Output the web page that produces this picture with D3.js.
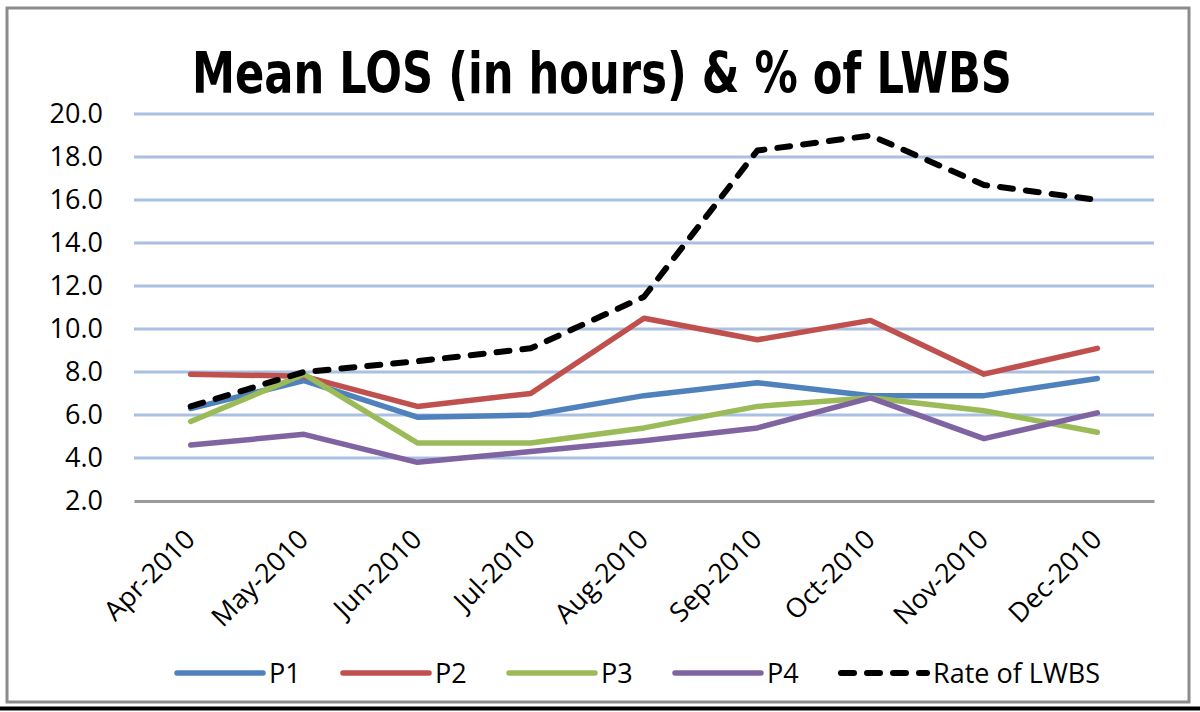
<!DOCTYPE html>
<html>
<head>
<meta charset="utf-8">
<script src="https://cdn.jsdelivr.net/npm/d3@7"></script>
<style>
  body { margin: 0; background: #fff; }
  svg text { font-family: "Open Sans", "Liberation Sans", sans-serif; fill: #000; }
</style>
</head>
<body>
<svg id="chart"></svg>
<script>
/* global d3 */

const months = ['Apr-2010', 'May-2010', 'Jun-2010', 'Jul-2010', 'Aug-2010',
  'Sep-2010', 'Oct-2010', 'Nov-2010', 'Dec-2010'];

const p1 = [6.3, 7.6, 5.9, 6.0, 6.9, 7.5, 6.9, 6.9, 7.7];
const p2 = [7.9, 7.8, 6.4, 7.0, 10.5, 9.5, 10.4, 7.9, 9.1];
const p3 = [5.7, 7.9, 4.7, 4.7, 5.4, 6.4, 6.8, 6.2, 5.2];
const p4 = [4.6, 5.1, 3.8, 4.3, 4.8, 5.4, 6.8, 4.9, 6.1];
const lwbs = [6.4, 8.0, 8.5, 9.1, 11.5, 18.3, 19.0, 16.7, 16.0];

const yTicks = [2, 4, 6, 8, 10, 12, 14, 16, 18, 20];

const series = [
  { name: 'P1', values: p1, color: '#4f81bd', dash: null },
  { name: 'P2', values: p2, color: '#c0504d', dash: null },
  { name: 'P3', values: p3, color: '#9bbb59', dash: null },
  { name: 'P4', values: p4, color: '#8064a2', dash: null },
  { name: 'Rate of LWBS', values: lwbs, color: '#000000', dash: '13,13' },
];

const WIDTH = 1200;
const HEIGHT = 712;
const margin = { top: 114, right: 46, bottom: 211, left: 134 };
const width = WIDTH - margin.left - margin.right;
const height = HEIGHT - margin.top - margin.bottom;

const svg = d3.select('#chart')
  .attr('width', WIDTH)
  .attr('height', HEIGHT);

// frame
svg.append('rect')
  .attr('x', 7).attr('y', 8)
  .attr('width', 1182).attr('height', 694)
  .attr('fill', '#fff')
  .attr('stroke', '#8c8c8c')
  .attr('stroke-width', 3);
svg.append('line')
  .attr('x1', 0).attr('x2', WIDTH)
  .attr('y1', 708.5).attr('y2', 708.5)
  .attr('stroke', '#000')
  .attr('stroke-width', 4);

// title
svg.append('text')
  .attr('x', 602).attr('y', 93)
  .attr('text-anchor', 'middle')
  .attr('font-size', 57)
  .attr('font-weight', 'bold')
  .attr('textLength', 820)
  .attr('lengthAdjust', 'spacingAndGlyphs')
  .style('font-family', '"Liberation Sans Narrow", "DejaVu Sans Condensed", "Liberation Sans", sans-serif')
  .text('Mean LOS (in hours) & % of LWBS');

const g = svg.append('g')
  .attr('transform', `translate(${margin.left},${margin.top})`);

const x = d3.scaleBand().domain(months).range([0, width]);
const y = d3.scaleLinear().domain([2, 20]).range([height, 0]);

// gridlines
g.append('g')
  .selectAll('line')
  .data(yTicks.filter(t => t > 2))
  .join('line')
  .attr('x1', 0).attr('x2', width)
  .attr('y1', d => y(d)).attr('y2', d => y(d))
  .attr('stroke', '#a9c0e2')
  .attr('stroke-width', 3);

// y axis labels
const yAxis = g.append('g')
  .call(d3.axisLeft(y).tickValues(yTicks).tickFormat(d3.format('.1f')).tickSize(0).tickPadding(31));
yAxis.select('.domain').remove();
yAxis.selectAll('text')
  .attr('font-size', 27)
  .attr('fill', '#1a1a1a')
  .style('font-family', '"Open Sans", sans-serif');

// x axis
const xAxis = g.append('g')
  .attr('transform', `translate(0,${height})`)
  .call(d3.axisBottom(x).tickSize(0).tickPadding(0));
xAxis.select('.domain')
  .attr('stroke', '#9a9a9a')
  .attr('stroke-width', 3);
xAxis.selectAll('.tick text')
  .attr('font-size', 27)
  .attr('fill', '#1a1a1a')
  .attr('text-anchor', 'end')
  .attr('y', 0).attr('dy', 0)
  .attr('transform', 'translate(6,40) rotate(-45)')
  .style('font-family', '"Open Sans", sans-serif');

// lines
const line = d3.line()
  .x((d, i) => x(months[i]) + x.bandwidth() / 2)
  .y(d => y(d));

g.selectAll('.series')
  .data(series)
  .join('path')
  .attr('class', 'series')
  .attr('d', s => line(s.values))
  .attr('fill', 'none')
  .attr('stroke', s => s.color)
  .attr('stroke-width', s => (s.dash ? 6 : 5.5))
  .attr('stroke-linejoin', 'round')
  .attr('stroke-linecap', 'round')
  .attr('stroke-dasharray', s => s.dash);

// legend
const legend = svg.append('g')
  .attr('transform', 'translate(177,673)');
const item = legend.selectAll('g')
  .data(series)
  .join('g')
  .attr('transform', (d, i) => `translate(${i * 166},0)`);
item.append('line')
  .attr('x1', 0).attr('x2', 86)
  .attr('stroke', d => d.color)
  .attr('stroke-width', d => (d.dash ? 6 : 5.5))
  .attr('stroke-linecap', 'round')
  .attr('stroke-dasharray', d => d.dash);
item.append('text')
  .attr('x', 92).attr('y', 10)
  .attr('font-size', 27)
  .attr('fill', '#1a1a1a')
  .text(d => d.name);
</script>
</body>
</html>
